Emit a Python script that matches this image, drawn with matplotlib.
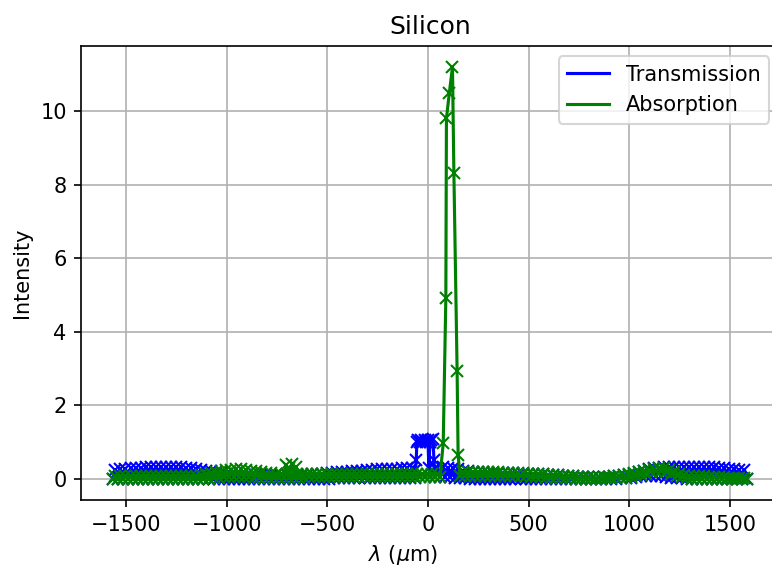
import numpy as np
import matplotlib
matplotlib.use("Agg")
import matplotlib.pyplot as plt

# fast fringes: troughs every 25 um from -1565, crests offset by 12.5 um
t_lo = ([0.0] * 42 + [0.01, 0.01] + [0.02] * 10 + [0.03] * 6 + [0.04, 0.04]
        + [0.05] * 6 + [0.04, 0.03, 0.02, 0.01] + [0.0] * 28
        + [0.01, 0.02, 0.03, 0.04, 0.06, 0.07, 0.08, 0.08, 0.08, 0.07,
           0.06, 0.04, 0.03, 0.02, 0.01] + [0.0] * 12)
t_hi = [0.25, 0.27, 0.28, 0.29, 0.30, 0.31, 0.32, 0.33, 0.34, 0.34,
        0.34, 0.34, 0.33, 0.32, 0.30, 0.29, 0.27, 0.25, 0.23, 0.21,
        0.19, 0.17, 0.15, 0.14, 0.13, 0.12, 0.11, 0.10, 0.10, 0.10,
        0.10, 0.10, 0.10, 0.10, 0.10, 0.11, 0.11, 0.12, 0.12, 0.13,
        0.14, 0.15, 0.16, 0.17, 0.18, 0.19, 0.20, 0.21, 0.22, 0.23,
        0.24, 0.25, 0.26, 0.26, 0.27, 0.28, 0.28, 0.29, 0.29, 0.30,
        0.30, 0.30, 0.30, 0.30, 0.31, 0.32, 0.31, 0.29, 0.26, 0.23,
        0.21, 0.19, 0.18, 0.18, 0.17, 0.17, 0.16, 0.16, 0.16, 0.16,
        0.15, 0.15, 0.14, 0.14, 0.13, 0.13, 0.12, 0.11, 0.10, 0.09,
        0.08, 0.07, 0.06, 0.06, 0.05, 0.05, 0.05, 0.05, 0.06, 0.07,
        0.08, 0.10, 0.12, 0.15, 0.19, 0.23, 0.27, 0.29, 0.31, 0.32,
        0.33, 0.33, 0.33, 0.33, 0.33, 0.33, 0.33, 0.33, 0.32, 0.32,
        0.31, 0.30, 0.28, 0.27, 0.25, 0.24]

a_lo = ([0.0] * 19
        + [0.01, 0.02, 0.04, 0.05, 0.06, 0.06, 0.06, 0.05, 0.05, 0.04]
        + [0.04] * 10 + [0.05] * 30 + [0.07] + [0.08] * 8 + [0.07] * 5
        + [0.06, 0.06, 0.05, 0.04, 0.04, 0.03, 0.03, 0.02, 0.02, 0.01]
        + [0.01] * 5
        + [0.02, 0.02, 0.03, 0.03, 0.04, 0.05, 0.07, 0.10, 0.13, 0.18,
           0.22, 0.23, 0.20, 0.14, 0.08, 0.05, 0.02, 0.01] + [0.0] * 11)
a_hi = ([0.08] * 16
        + [0.09, 0.10, 0.13, 0.16, 0.19, 0.22, 0.24, 0.25, 0.26, 0.26,
           0.25, 0.23, 0.21, 0.19, 0.17, 0.16, 0.15] + [0.15] * 35
        + [0.18, 0.20, 0.20, 0.19, 0.19, 0.19, 0.18, 0.18, 0.18, 0.17,
           0.17, 0.17, 0.16, 0.16, 0.15, 0.15, 0.14, 0.13, 0.12, 0.11,
           0.10, 0.09, 0.08, 0.07, 0.06, 0.05, 0.05, 0.05, 0.05, 0.05,
           0.06, 0.07, 0.09, 0.11, 0.14, 0.16, 0.19, 0.22, 0.25, 0.27,
           0.29, 0.29, 0.25, 0.20, 0.15, 0.11, 0.09, 0.08, 0.07, 0.07,
           0.06, 0.06, 0.05, 0.05, 0.04, 0.04, 0.03, 0.03])

x_lo = -1565 + 25 * np.arange(len(t_lo))
x_hi = -1552.5 + 25 * np.arange(len(t_hi))

# resonance features near the centre
t_peak_x = [-62, -58, -55, -48, -40, -32, -24, -16, -8, 0, 5, 10, 17, 25, 30, 36]
t_peak_y = [0.25, 0.52, 1.00, 1.05, 1.00, 1.05, 1.00, 1.05, 1.00, 1.05, 0.30, 1.00, 1.05, 1.08, 0.52, 0.30]
a_peak_x = [76, 89, 92, 106, 122, 129, 145, 150]
a_peak_y = [0.97, 4.91, 9.80, 10.48, 11.20, 8.32, 2.94, 0.65]
a_side_x = [-705, -690, -675, -655]
a_side_y = [0.37, 0.30, 0.40, 0.33]


def merge(lo, hi, extra_x, extra_y, gap):
    xs = np.concatenate([x_lo, x_hi])
    ys = np.concatenate([lo, hi])
    keep = ~((xs > gap[0]) & (xs < gap[1]))
    xs = np.concatenate([xs[keep], extra_x])
    ys = np.concatenate([ys[keep], extra_y])
    order = np.argsort(xs, kind="stable")
    return xs[order], ys[order]


tx, ty = merge(t_lo, t_hi, t_peak_x, t_peak_y, (-60, 30))
abs_x, abs_y = merge(a_lo, a_hi, a_peak_x + a_side_x, a_peak_y + a_side_y, (68, 155))

fig = plt.figure(figsize=(772 / 150, 566 / 150), dpi=150)
# right spine sits just past the image edge
ax = fig.add_axes([0.1053, 0.1166, 0.904, 0.8021])

ax.plot(tx, ty, "bx")
ax.plot(tx, ty, "b-", label="Transmission")
ax.plot(abs_x, abs_y, "gx")
ax.plot(abs_x, abs_y, "g-", label="Absorption")

ax.set_xlim(-1722, 1745)
ax.set_ylim(-0.57, 11.77)
ax.set_xticks([-1500, -1000, -500, 0, 500, 1000, 1500])
ax.set_yticks([0, 2, 4, 6, 8, 10])
ax.grid(True)
ax.set_axisbelow(True)

ax.set_title("Silicon")
ax.set_xlabel(r"$\lambda$ ($\mu$m)", x=0.461)
ax.set_ylabel("Intensity")
ax.legend(loc="upper right")

plt.savefig("out.png", dpi=150)
